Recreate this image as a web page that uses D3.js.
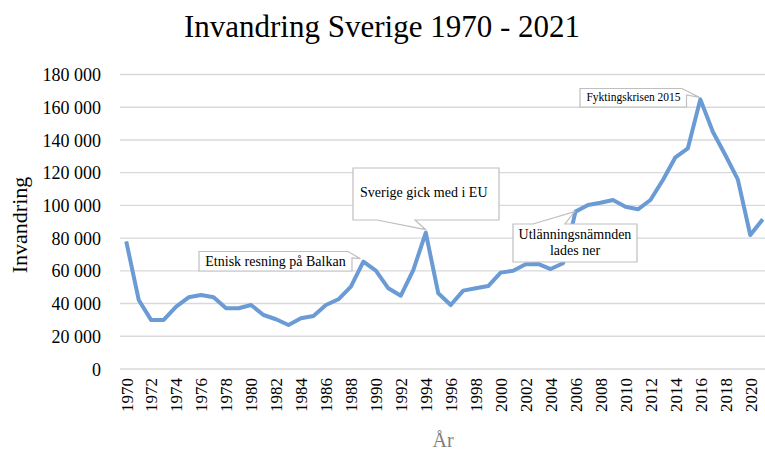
<!DOCTYPE html>
<html>
<head>
<meta charset="utf-8">
<script src="https://cdn.jsdelivr.net/npm/d3@7"></script>
<style>
  body { margin: 0; background: #fff; }
  svg { display: block; }
  text { font-family: "Liberation Serif", "Times New Roman", serif; }
</style>
</head>
<body>
<svg id="chart" width="765" height="450"></svg>
<script>
const years = [1970,1971,1972,1973,1974,1975,1976,1977,1978,1979,
  1980,1981,1982,1983,1984,1985,1986,1987,1988,1989,
  1990,1991,1992,1993,1994,1995,1996,1997,1998,1999,
  2000,2001,2002,2003,2004,2005,2006,2007,2008,2009,
  2010,2011,2012,2013,2014,2015,2016,2017,2018,2019,
  2020,2021];
const invandring = [78000,42200,29900,30000,38100,43800,45200,43800,37100,37100,
  39100,33000,30400,26900,31000,32400,39100,42600,50300,65600,
  60100,49300,44800,60500,83300,46300,39100,47900,49300,50700,
  58900,60100,64000,64200,61100,64600,96200,100200,101600,103300,
  99200,97600,103300,115500,129400,134900,164800,145000,130800,115900,
  81900,91500];
const yTicks = [0,20000,40000,60000,80000,100000,120000,140000,160000,180000];
const xTickYears = years.filter(y => y % 2 === 0);
const annotations = [
  { year: 1989, lines: ["Etnisk resning på Balkan"] },
  { year: 1994, lines: ["Sverige gick med i EU"] },
  { year: 2006, lines: ["Utlänningsnämnden", "lades ner"] },
  { year: 2016, lines: ["Fyktingskrisen 2015"] }
];
const title = "Invandring Sverige 1970 - 2021";
const yTitle = "Invandring";
const xTitle = "År";

const svg = d3.select("#chart");
const x = d3.scalePoint().domain(years).range([120, 769]).padding(0.5);
const y = d3.scaleLinear().domain([0, 180000]).range([369, 74.5]);
const fmt = v => d3.format(",")(v).replace(/,/g, " ");

// gridlines
svg.append("g").selectAll("line").data(yTicks).join("line")
  .attr("x1", 120).attr("x2", 769)
  .attr("y1", d => y(d)).attr("y2", d => y(d))
  .attr("stroke", "#d9d9d9").attr("stroke-width", 1.4);

// y axis labels
const yAxis = d3.axisLeft(y).tickValues(yTicks).tickFormat(fmt).tickSize(0).tickPadding(0);
const gy = svg.append("g").attr("transform", "translate(101,0)").call(yAxis);
gy.select(".domain").remove();
gy.selectAll("text").attr("font-family", "Liberation Serif").attr("font-size", 18).attr("fill", "#000").attr("dy", "0.34em");

// x axis labels
const xAxis = d3.axisBottom(x).tickValues(xTickYears).tickSize(0).tickPadding(0);
const gx = svg.append("g").attr("transform", "translate(0,378)").call(xAxis);
gx.select(".domain").remove();
gx.selectAll("text")
  .attr("font-family", "Liberation Serif").attr("font-size", 17).attr("fill", "#000")
  .attr("transform", "rotate(-90)")
  .attr("text-anchor", "end")
  .attr("x", 0).attr("y", 0).attr("dy", "0.34em");

// line
const line = d3.line().x((d, i) => x(years[i])).y(d => y(d));
svg.append("path").datum(invandring)
  .attr("d", line)
  .attr("fill", "none")
  .attr("stroke", "#6a9bd5")
  .attr("stroke-width", 4)
  .attr("stroke-linejoin", "round");

// titles
svg.append("text").attr("x", 382).attr("y", 37).attr("text-anchor", "middle")
  .attr("font-size", 31).attr("fill", "#000").text(title);
svg.append("text").attr("transform", "translate(27,225) rotate(-90)").attr("text-anchor", "middle")
  .attr("font-size", 22).attr("fill", "#000").text(yTitle);
svg.append("text").attr("x", 443).attr("y", 447).attr("text-anchor", "middle")
  .attr("font-size", 20).attr("fill", "#7f7f7f").text(xTitle);

// callouts
function val(year) { return invandring[years.indexOf(year)]; }
const boxes = [
  { x0: 199, y0: 251.5, w: 153, h: 19.5, kind: "topright", a: 348, b: 258, dx: -3, dy: -3, fs: 14, tx: 275.5, ty: [266] },
  { x0: 353, y0: 168, w: 146, h: 52, kind: "bottom", a: 377, b: 415, dx: 0, dy: -3, fs: 14, tx: 360, ty: [197], anchor: "start" },
  { x0: 513, y0: 224, w: 124, h: 38, kind: "top", a: 533, b: 565, dx: -1, dy: 0, fs: 14, tx: 575, ty: [239, 255] },
  { x0: 580, y0: 88.5, w: 106.5, h: 18.5, kind: "topright", a: 682, b: 95, dx: -1, dy: -2, fs: 11.5, tx: 633.5, ty: [101] }
];
annotations.forEach((an, i) => {
  const bx = boxes[i];
  const tx = x(an.year) + bx.dx, ty = y(val(an.year)) + bx.dy;
  const X0 = bx.x0, Y0 = bx.y0, X1 = bx.x0 + bx.w, Y1 = bx.y0 + bx.h;
  let p;
  if (bx.kind === "topright") {
    p = [[X0,Y0],[bx.a,Y0],[tx,ty],[X1,bx.b],[X1,Y1],[X0,Y1]];
  } else if (bx.kind === "bottom") {
    p = [[X0,Y0],[X1,Y0],[X1,Y1],[bx.b,Y1],[tx,ty],[bx.a,Y1],[X0,Y1]];
  } else {
    p = [[X0,Y0],[bx.a,Y0],[tx,ty],[bx.b,Y0],[X1,Y0],[X1,Y1],[X0,Y1]];
  }
  svg.append("path").attr("d", "M" + p.map(q => q.join(",")).join("L") + "Z")
    .attr("fill", "#fff").attr("stroke", "#bfbfbf").attr("stroke-width", 1.2);
  an.lines.forEach((t, j) => {
    svg.append("text").attr("x", bx.tx).attr("y", bx.ty[j])
      .attr("text-anchor", bx.anchor || "middle")
      .attr("font-size", bx.fs).attr("fill", "#000").text(t);
  });
});
</script>
</body>
</html>
